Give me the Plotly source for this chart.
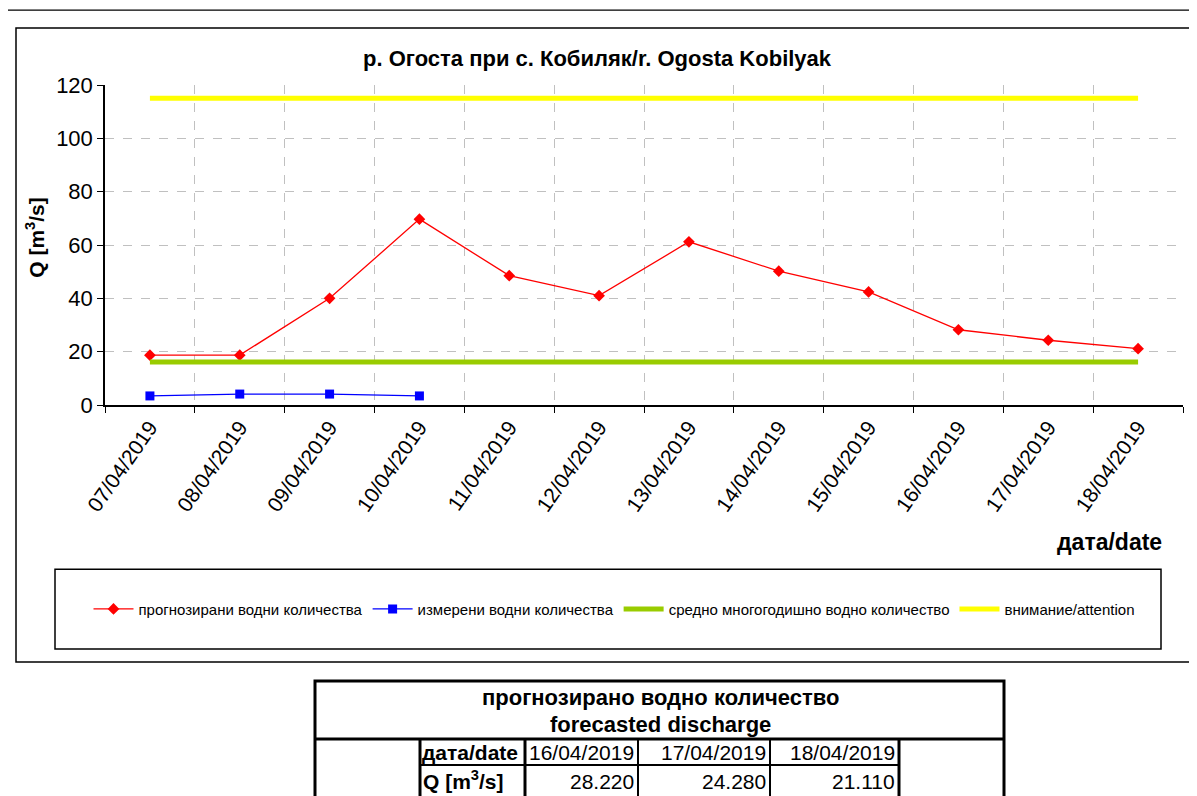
import plotly.graph_objects as go

# ---------------- data ----------------
dates = ["07/04/2019", "08/04/2019", "09/04/2019", "10/04/2019", "11/04/2019", "12/04/2019",
         "13/04/2019", "14/04/2019", "15/04/2019", "16/04/2019", "17/04/2019", "18/04/2019"]
forecast_q = [18.7, 18.7, 40.0, 69.7, 48.5, 41.0, 61.2, 50.2, 42.4, 28.22, 24.28, 21.11]
measured_dates = ["07/04/2019", "08/04/2019", "09/04/2019", "10/04/2019"]
measured_q = [3.4, 4.1, 4.1, 3.4]
mean_q = [16.1] * len(dates)
attention_q = [115.0] * len(dates)

series_names = ["прогнозирани водни количества", "измерени водни количества",
                "средно многогодишно водно количество", "внимание/attention"]

table_dates = ["16/04/2019", "17/04/2019", "18/04/2019"]
table_values = [28.220, 24.280, 21.110]

# page offset of the plot div inside the browser page (default body margin)
OFF = 8
W, H = 1197 - OFF, 796 - OFF
# plot area in screen pixels
L, R, T, B = 105, 1183, 85, 405.5
FONT = "Liberation Sans, Arial, sans-serif"


def px(x):
    return (x - L) / (R - L)


def py(y):
    return (B - y) / (B - T)


fig = go.Figure()
fig.add_trace(go.Scatter(x=dates, y=forecast_q, name=series_names[0], mode="lines+markers",
                         line=dict(color="#FF0000", width=1.3),
                         marker=dict(symbol="diamond", size=9, color="#FF0000")))
fig.add_trace(go.Scatter(x=measured_dates, y=measured_q, name=series_names[1], mode="lines+markers",
                         line=dict(color="#0000FF", width=1.3),
                         marker=dict(symbol="square", size=9, color="#0000FF")))
fig.add_trace(go.Scatter(x=dates, y=mean_q, name=series_names[2], mode="lines",
                         line=dict(color="#99CC00", width=5)))
fig.add_trace(go.Scatter(x=dates, y=attention_q, name=series_names[3], mode="lines",
                         line=dict(color="#FFFF00", width=5)))

fig.update_layout(
    width=W, height=H,
    margin=dict(l=L - OFF, r=W - (R - OFF), t=T - OFF, b=H - (B - OFF), pad=0),
    paper_bgcolor="white", plot_bgcolor="white",
    font=dict(family=FONT, color="black"),
    showlegend=True,
    legend=dict(orientation="h", x=px(614), y=py(610), xanchor="center", yanchor="middle",
                font=dict(size=15, family=FONT, color="black"), bgcolor="rgba(0,0,0,0)",
                itemwidth=40, tracegroupgap=0),
    xaxis=dict(type="category", categoryorder="array", categoryarray=dates,
               tickson="boundaries", ticks="outside", ticklen=6, tickcolor="black",
               showline=True, linecolor="black", linewidth=1.5,
               showgrid=True, gridcolor="#C0C0C0", griddash="dash", gridwidth=1,
               tickangle=-55, tickfont=dict(size=21, family=FONT, color="black"),
               range=[-0.5, len(dates) - 0.5]),
    yaxis=dict(range=[0, 120], dtick=20, tick0=0, ticks="outside", ticklen=6, tickcolor="black",
               showline=True, linecolor="black", linewidth=1.5, zeroline=False,
               showgrid=True, gridcolor="#C0C0C0", griddash="dash", gridwidth=1,
               tickfont=dict(size=22, family=FONT, color="black")),
)

shapes = []


def rect(x0, y0, x1, y1, w=1.5):
    shapes.append(dict(type="rect", xref="paper", yref="paper",
                       x0=px(x0), x1=px(x1), y0=py(y0), y1=py(y1),
                       line=dict(color="black", width=w), fillcolor="rgba(0,0,0,0)", layer="below"))


def line(x0, y0, x1, y1, w=1.5):
    shapes.append(dict(type="line", xref="paper", yref="paper",
                       x0=px(x0), x1=px(x1), y0=py(y0), y1=py(y1),
                       line=dict(color="black", width=w)))


# frames
rect(5, 10, 1210, 810, 1.2)
rect(16, 28, 1196, 663, 1.5)
rect(55, 570, 1161, 650, 1.5)
# table
rect(315, 682, 1004, 812, 3)
line(315, 740, 1004, 740, 3)
line(420, 766, 899, 766, 2)
line(420, 740, 420, 800, 3)
line(525, 740, 525, 800, 3)
line(638, 740, 638, 800, 2)
line(770, 740, 770, 800, 2)
line(899, 740, 899, 800, 3)

annotations = []


def text(x, y, s, size, xanchor="center", angle=0):
    annotations.append(dict(xref="paper", yref="paper", x=px(x), y=py(y), text=s,
                            showarrow=False, xanchor=xanchor, yanchor="middle", textangle=angle,
                            font=dict(size=size, family=FONT, color="black")))


text(597, 58, "<b>р. Огоста при с. Кобиляк/r. Ogosta Kobilyak</b>", 22)
text(35, 238, "<b>Q [m<sup>3</sup>/s]</b>", 21, angle=-90)
text(1164, 543, "<b>дата/date</b>", 23, xanchor="right")

text(660, 698, "<b>прогнозирано водно количество</b>", 22)
text(660, 725, "<b>forecasted discharge</b>", 22)
text(420, 754, "<b>дата/date</b>", 21, xanchor="left")
text(421, 781, "<b>Q [m<sup>3</sup>/s]</b>", 21, xanchor="left")
right_edges = [636, 768, 897]
for d, v, xr in zip(table_dates, table_values, right_edges):
    text(xr, 754, d, 21, xanchor="right")
    text(xr, 783, f"{v:.3f}", 21, xanchor="right")

fig.update_layout(shapes=shapes, annotations=annotations)

fig.write_html("out.html")
